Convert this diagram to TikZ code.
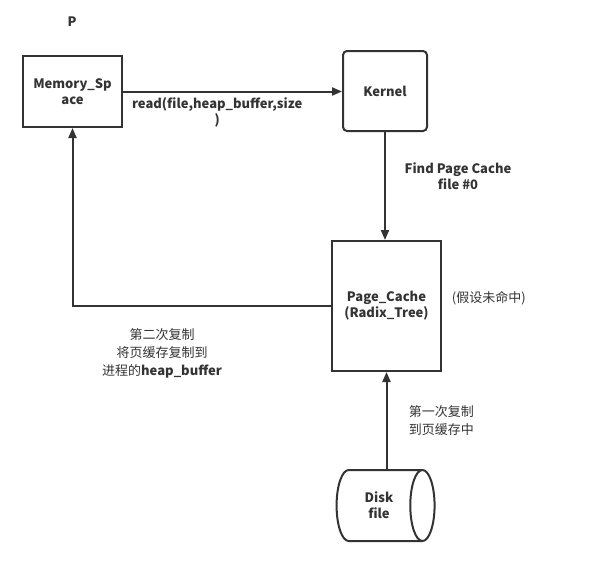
\documentclass[tikz,border=0pt]{standalone}
\usepackage{fontspec}
\setmainfont{Noto Sans CJK SC}
\usetikzlibrary{positioning, arrows.meta, shapes.geometric}

\begin{document}
\begin{tikzpicture}[x=0.75pt, y=-0.75pt,
    every node/.style={font=\fontsize{9.75}{12}\selectfont\bfseries, text=black!80},
    box/.style={rectangle, draw=black!80, line width=1.5pt, align=center, inner sep=0pt},
    disk/.style={cylinder, draw=black!80, line width=1.5pt, aspect=0.9, align=center, inner sep=0pt},
    note/.style={align=center, inner sep=2pt},
    cn/.style={font=\fontsize{9.75}{13.5}\selectfont\mdseries},
    arrow/.style={-{Triangle[length=7.5pt, width=6pt]}, line width=1.5pt, draw=black!80}]

  \useasboundingbox (0,0) rectangle (610,564);

  \node (ptitle) at (72,22) {P};

  \node[box, minimum width=74.25pt, minimum height=53.25pt] (mem) at (72.5,91.5) {Memory\_Sp\\ace};
  \node[box, rounded corners=3pt, minimum width=63pt, minimum height=60pt] (kernel) at (385,91) {Kernel};
  \node[box, minimum width=81.75pt, minimum height=97.5pt] (pcache) at (386.5,306) {Page\_Cache\\(Radix\_Tree)};
  \node[disk, minimum width=53.25pt, minimum height=73.5pt] (disk) at (379,505.5) {Disk\\file};

  \node[note, cn, anchor=west] (miss) at (449,298) {(假设未命中)};
  \node[note, cn] (copy2) at (162,353) {第二次复制\\将页缓存复制到\\进程的{\bfseries heap\_buffer}};

  \draw[arrow] (mem.east) -- node[note, below=2pt, pos=0.43] {read(file,heap\_buffer,size\\)} (mem.east -| kernel.west);
  \draw[arrow] (kernel.south) -- node[note, right=12pt, pos=0.41] {Find Page Cache\\file \#0} (kernel.south |- pcache.north);
  \draw[arrow] (pcache.west) -| (mem.south);
  \draw[arrow] (pcache.south |- disk.north) -- node[note, cn, align=left, right=14pt, midway] {第一次复制\\到页缓存中} (pcache.south);
\end{tikzpicture}
\end{document}
